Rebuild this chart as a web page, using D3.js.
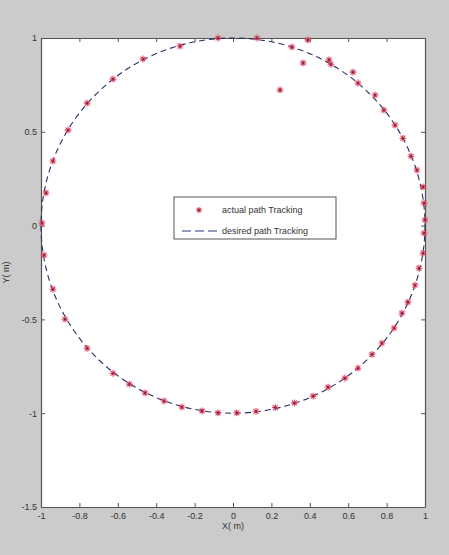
<!DOCTYPE html>
<html>
<head>
<meta charset="utf-8">
<script src="https://cdn.jsdelivr.net/npm/d3@7"></script>
<style>
  body { margin: 0; background: #cbcbcb; }
  svg { display: block; font-family: "Liberation Sans", Arial, sans-serif; }
</style>
</head>
<body>
<div id="container"></div>
<script>
// actual path (red stars)
const actualX = [
  -0.078, -0.276, -0.469, -0.625, -0.76, -0.859, -0.938, -0.974, -0.995,
  -0.984, -0.938, -0.875, -0.76, -0.625, -0.54, -0.458, -0.359, -0.266, -0.161, -0.078,
  0.02, 0.12, 0.22, 0.32, 0.417, 0.495, 0.583, 0.651, 0.724, 0.776, 0.839, 0.88,
  0.911, 0.948, 0.969, 0.99, 0.995, 1.0, 0.995, 0.99, 0.958, 0.927, 0.885, 0.844,
  0.786, 0.74, 0.651, 0.625, 0.51, 0.5, 0.39, 0.365, 0.245, 0.307, 0.125
];
const actualY = [
  1.0, 0.957, 0.888, 0.781, 0.653, 0.509, 0.344, 0.174, 0.014,
  -0.157, -0.339, -0.499, -0.654, -0.787, -0.845, -0.892, -0.935, -0.967, -0.988, -0.998,
  -0.998, -0.99, -0.97, -0.945, -0.909, -0.861, -0.813, -0.76, -0.686, -0.626, -0.546, -0.467,
  -0.408, -0.317, -0.227, -0.147, -0.04, 0.03, 0.12, 0.206, 0.296, 0.37, 0.466, 0.536,
  0.616, 0.696, 0.76, 0.818, 0.86, 0.883, 0.99, 0.867, 0.723, 0.952, 1.0
];
// desired path: unit circle
const desiredCenter = [0, 0];
const desiredRadius = 1;

const xTicks = [-1, -0.8, -0.6, -0.4, -0.2, 0, 0.2, 0.4, 0.6, 0.8, 1];
const yTicks = [-1.5, -1, -0.5, 0, 0.5, 1];
const legendLabels = ["actual path Tracking", "desired path Tracking"];

const W = 449, H = 555;
const margin = { top: 38, right: 24, bottom: 48, left: 41 };

const svg = d3.select("#container").append("svg")
  .attr("width", W).attr("height", H);

svg.append("rect").attr("width", W).attr("height", H).attr("fill", "#cbcbcb");

const x = d3.scaleLinear().domain([-1, 1]).range([margin.left, W - margin.right]);
const y = d3.scaleLinear().domain([-1.5, 1]).range([H - margin.bottom, margin.top]);

// plot area
svg.append("rect")
  .attr("x", x(-1)).attr("y", y(1))
  .attr("width", x(1) - x(-1)).attr("height", y(-1.5) - y(1))
  .attr("fill", "#fff");

const fmt = d => d === 0 ? "0" : String(d);

// axes, MATLAB style (ticks inside, on all four sides)
const axB = svg.append("g").attr("transform", `translate(0,${y(-1.5)})`)
  .call(d3.axisBottom(x).tickValues(xTicks).tickFormat(fmt).tickSizeInner(-4).tickSizeOuter(0).tickPadding(6));
const axT = svg.append("g").attr("transform", `translate(0,${y(1)})`)
  .call(d3.axisTop(x).tickValues(xTicks).tickFormat("").tickSizeInner(-4).tickSizeOuter(0));
const axL = svg.append("g").attr("transform", `translate(${x(-1)},0)`)
  .call(d3.axisLeft(y).tickValues(yTicks).tickFormat(fmt).tickSizeInner(-4).tickSizeOuter(0).tickPadding(4));
const axR = svg.append("g").attr("transform", `translate(${x(1)},0)`)
  .call(d3.axisRight(y).tickValues(yTicks).tickFormat("").tickSizeInner(-4).tickSizeOuter(0));

[axB, axT, axL, axR].forEach(g => {
  g.selectAll("path.domain").attr("stroke", "#555").attr("stroke-width", 1.2);
  g.selectAll(".tick line").attr("stroke", "#555");
  g.selectAll(".tick text").attr("fill", "#333").style("font-size", "9px");
});

// axis labels
svg.append("text")
  .attr("x", x(0)).attr("y", 529)
  .attr("text-anchor", "middle")
  .attr("fill", "#333").style("font-size", "9px")
  .text("X( m)");
svg.append("text")
  .attr("transform", `translate(9,${(y(1) + y(-1.5)) / 2}) rotate(-90)`)
  .attr("text-anchor", "middle")
  .attr("fill", "#333").style("font-size", "9px")
  .text("Y( m)");

// desired path
svg.append("ellipse")
  .attr("cx", x(desiredCenter[0])).attr("cy", y(desiredCenter[1]))
  .attr("rx", x(desiredRadius) - x(0)).attr("ry", y(0) - y(desiredRadius))
  .attr("fill", "none")
  .attr("stroke", "#2c2f66").attr("stroke-width", 1.1)
  .attr("stroke-dasharray", "6,4");

// star marker
function star(g, size) {
  const s = size;
  const d = s * 0.72;
  g.append("path")
    .attr("d", `M${-s},0L${s},0M0,${-s}L0,${s}M${-d},${-d}L${d},${d}M${-d},${d}L${d},${-d}`)
    .attr("stroke", "#e0455f").attr("stroke-width", 1.1).attr("fill", "none");
  g.append("circle").attr("r", 1.1).attr("fill", "#6a2a48");
}

const actual = actualX.map((v, i) => ({ x: v, y: actualY[i] }));
svg.append("g").selectAll("g")
  .data(actual)
  .join("g")
  .attr("transform", d => `translate(${x(d.x)},${y(d.y)})`)
  .each(function () { star(d3.select(this), 3.4); });

// legend
const legend = svg.append("g").attr("transform", "translate(174,197)");
legend.append("rect")
  .attr("width", 162).attr("height", 42)
  .attr("fill", "#fff").attr("stroke", "#555").attr("stroke-width", 1);
star(legend.append("g").attr("transform", "translate(25,13)"), 3);
legend.append("line")
  .attr("x1", 8).attr("x2", 43).attr("y1", 34).attr("y2", 34)
  .attr("stroke", "#6f7aa8").attr("stroke-width", 1.3)
  .attr("stroke-dasharray", "9,4");
legend.selectAll("text.lbl")
  .data(legendLabels)
  .join("text")
  .attr("class", "lbl")
  .attr("x", 48).attr("y", (d, i) => 16 + i * 21)
  .attr("fill", "#333").style("font-size", "9px")
  .text(d => d);
</script>
</body>
</html>
